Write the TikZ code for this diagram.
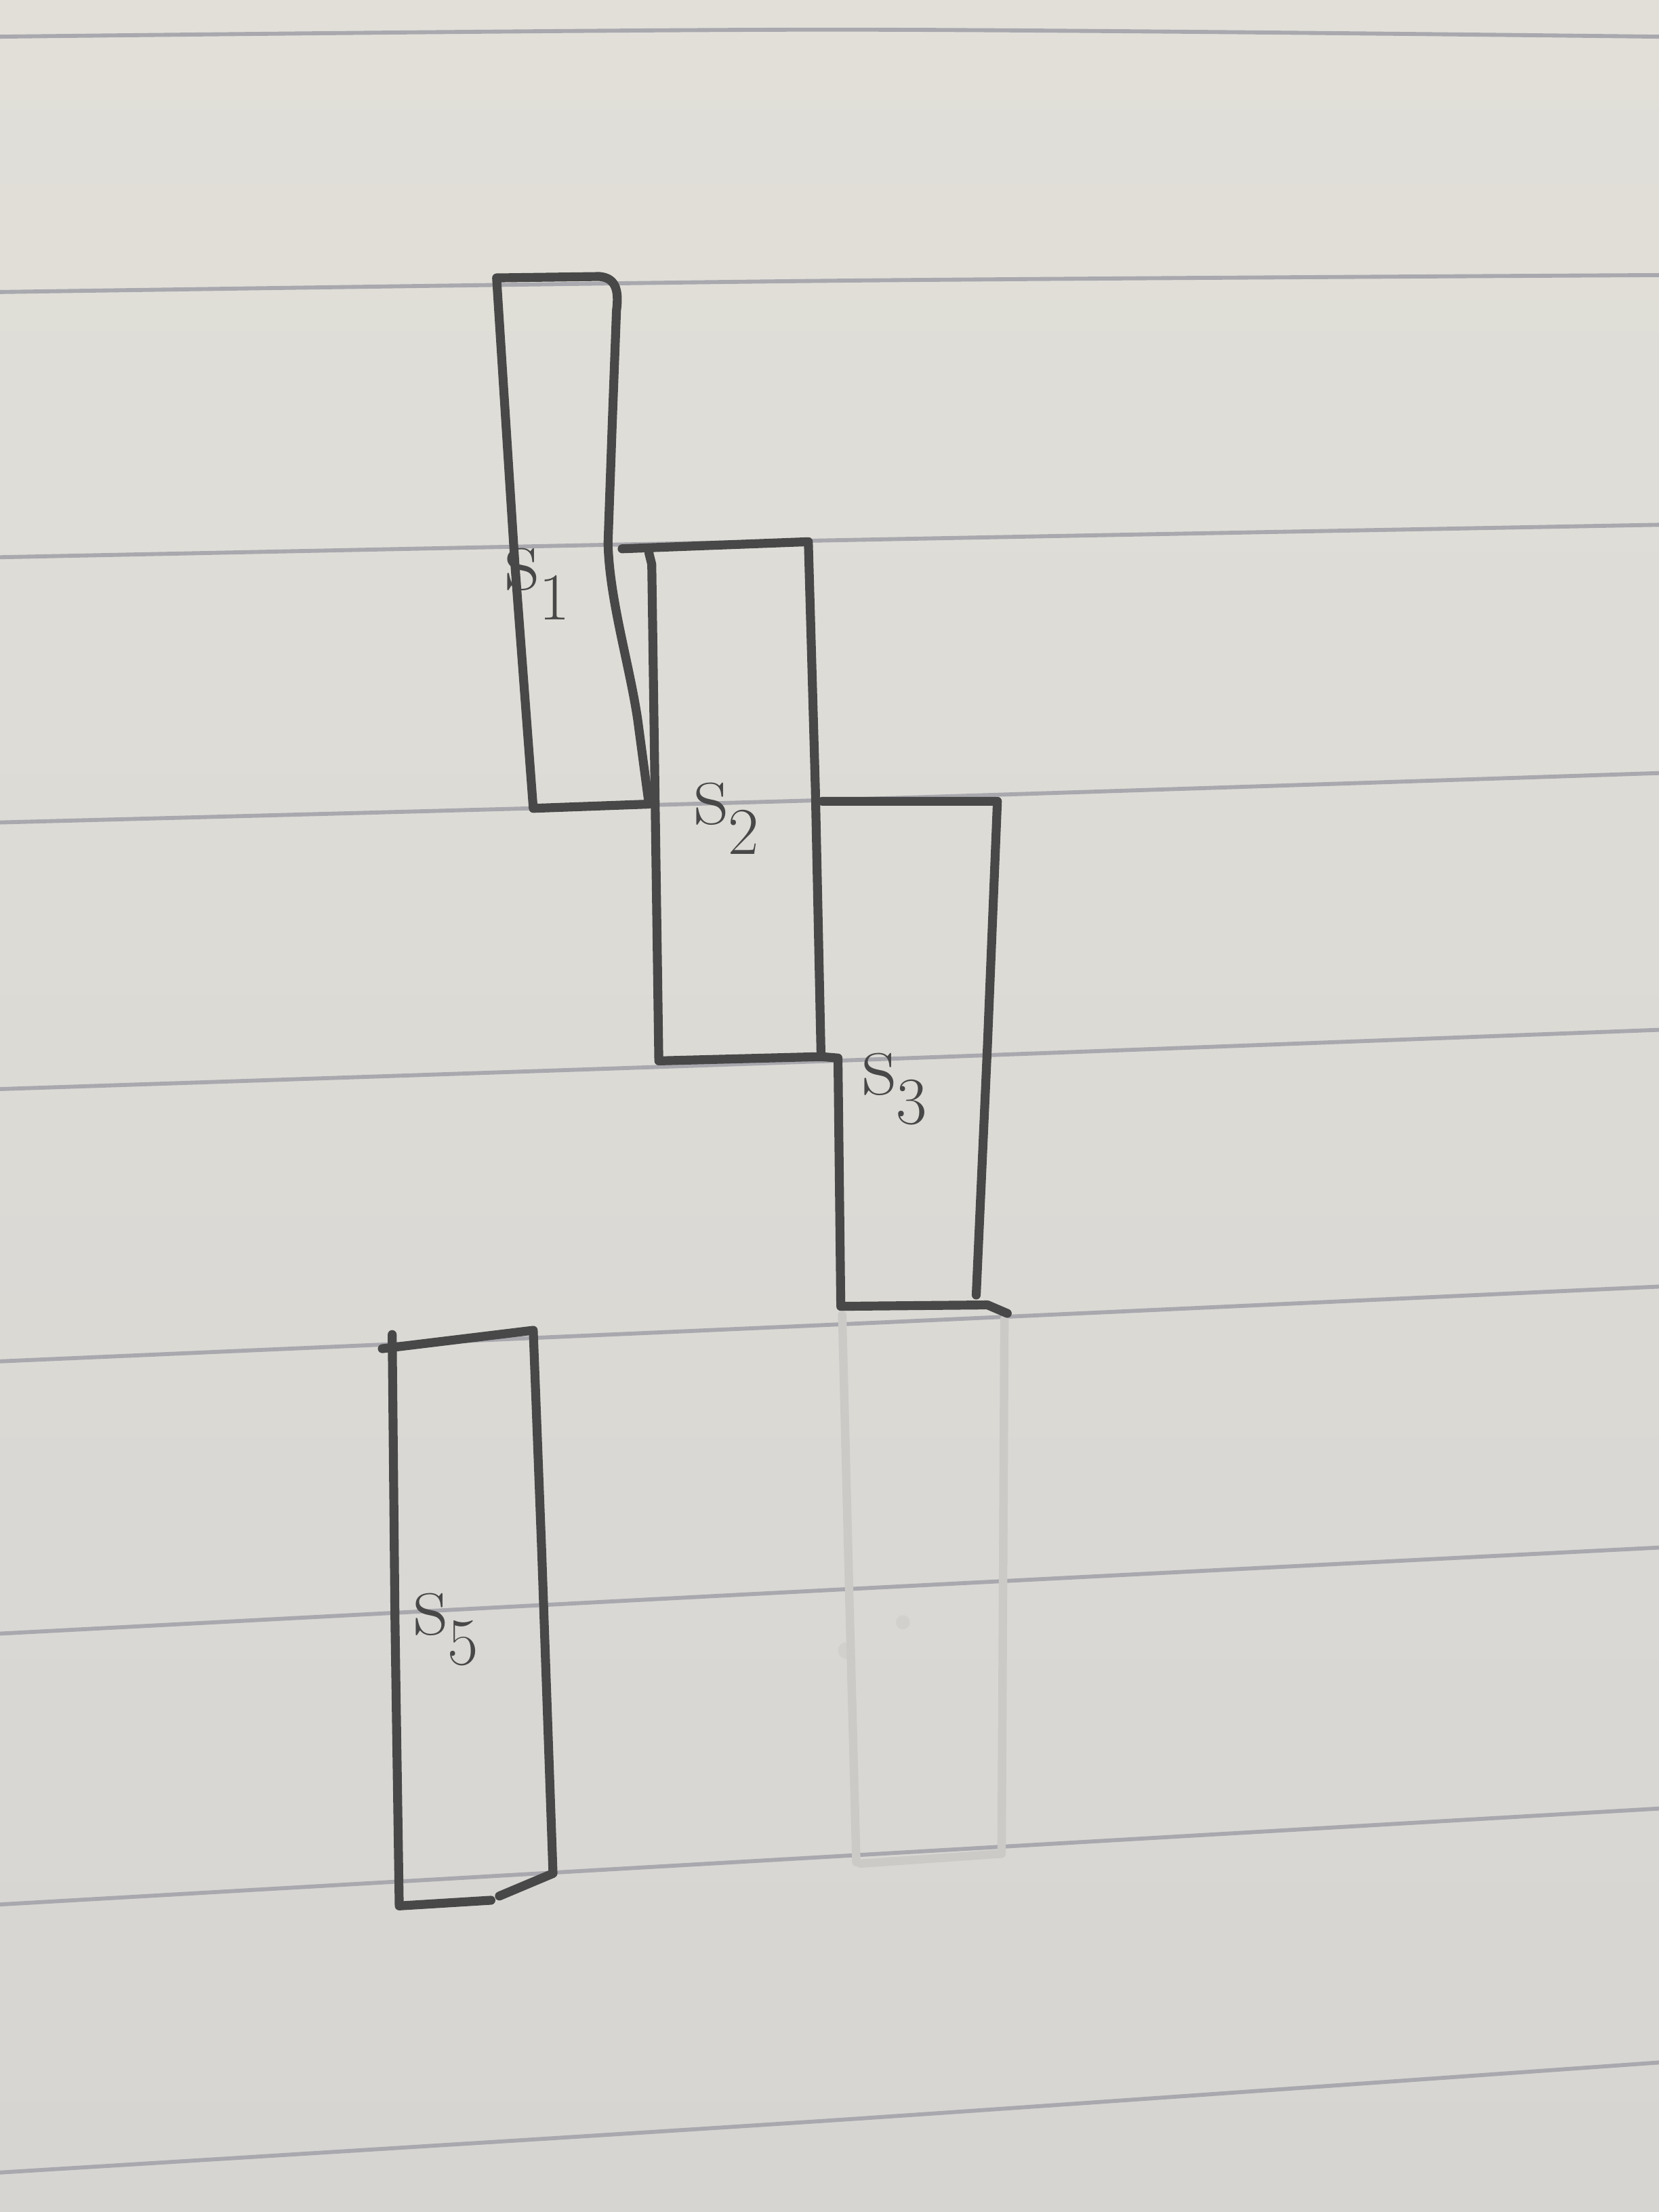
\documentclass[tikz,border=0pt]{standalone}
\definecolor{paperA}{RGB}{225,223,216}
\definecolor{paperB}{RGB}{214,213,210}
\definecolor{rulec}{RGB}{168,168,174}
\definecolor{penc}{RGB}{72,72,72}
\definecolor{faintc}{RGB}{203,202,199}
\begin{document}
\begin{tikzpicture}[x=0.02cm,y=-0.02cm,
  pen/.style={draw=penc, line width=3.6pt, line join=round, line cap=round},
  ruled/.style={draw=rulec, line width=1.6pt},
  faint/.style={draw=faintc, line width=3.4pt, line cap=round},
  lbl/.style={text=penc, inner sep=0pt}]
\newcommand{\lblS}[1]{{\fontsize{38}{42}\selectfont s}\raisebox{-12pt}{\fontsize{27}{30}\selectfont #1}}
\shade[top color=paperA, bottom color=paperB] (0,0) rectangle (1176,1568);
\useasboundingbox (0,0) rectangle (1176,1568);
% ruled lines of the paper
\draw[ruled] plot[smooth] coordinates {(0,26) (590,21) (1176,26)};
\draw[ruled] plot[smooth] coordinates {(0,207) (590,199) (1176,195)};
\draw[ruled] plot[smooth] coordinates {(0,395) (590,383) (1176,372)};
\draw[ruled] plot[smooth] coordinates {(0,583) (590,567) (1176,548)};
\draw[ruled] plot[smooth] coordinates {(0,772) (590,752) (1176,730)};
\draw[ruled] plot[smooth] coordinates {(0,965) (590,939) (1176,912)};
\draw[ruled] plot[smooth] coordinates {(0,1158) (590,1127) (1176,1097)};
\draw[ruled] plot[smooth] coordinates {(0,1350) (590,1316) (1176,1282)};
\draw[ruled] plot[smooth] coordinates {(0,1540) (590,1503) (1176,1462)};
% erased (faint) rectangle below s3
\draw[faint] (597,932) -- (602,1130) -- (607,1320);
\draw[faint] (712,935) -- (711,1130) -- (710,1312);
\draw[faint] (610,1321) -- (710,1314);
\fill[faintc, opacity=0.5] (600,1170) circle (6);
\fill[faintc, opacity=0.5] (640,1150) circle (5);
% s1
\draw[pen] (352,197) -- (425,196) .. controls (436,197) and (439,205) .. (437,220)
  -- (434,300) -- (431,385) .. controls (432,425) and (446,470) .. (452,510)
  -- (460,570) -- (378,573) -- (365,400) -- cycle;
% s2
\draw[pen] (441,389) -- (573,384) -- (578,560) -- (582,749) -- (467,752) -- (462,400) -- (460,392);
% s3
\draw[pen] (583,568) -- (707,568) -- (700,740) -- (692,918);
\draw[pen] (582,749) -- (594,750) -- (596,926) -- (700,925) -- (714,931);
% s5
\draw[pen] (271,956) -- (378,943) -- (384,1100) -- (392,1328) -- (354,1344);
\draw[pen] (278,946) -- (280,1150) -- (283,1351) -- (348,1347);
% labels
\node[lbl] (l1) at (381,414) {\lblS{1}};
\node[lbl] (l2) at (515,580) {\lblS{2}};
\node[lbl] (l3) at (634,772) {\lblS{3}};
\node[lbl] (l5) at (316,1155) {\lblS{5}};
\end{tikzpicture}
\end{document}
